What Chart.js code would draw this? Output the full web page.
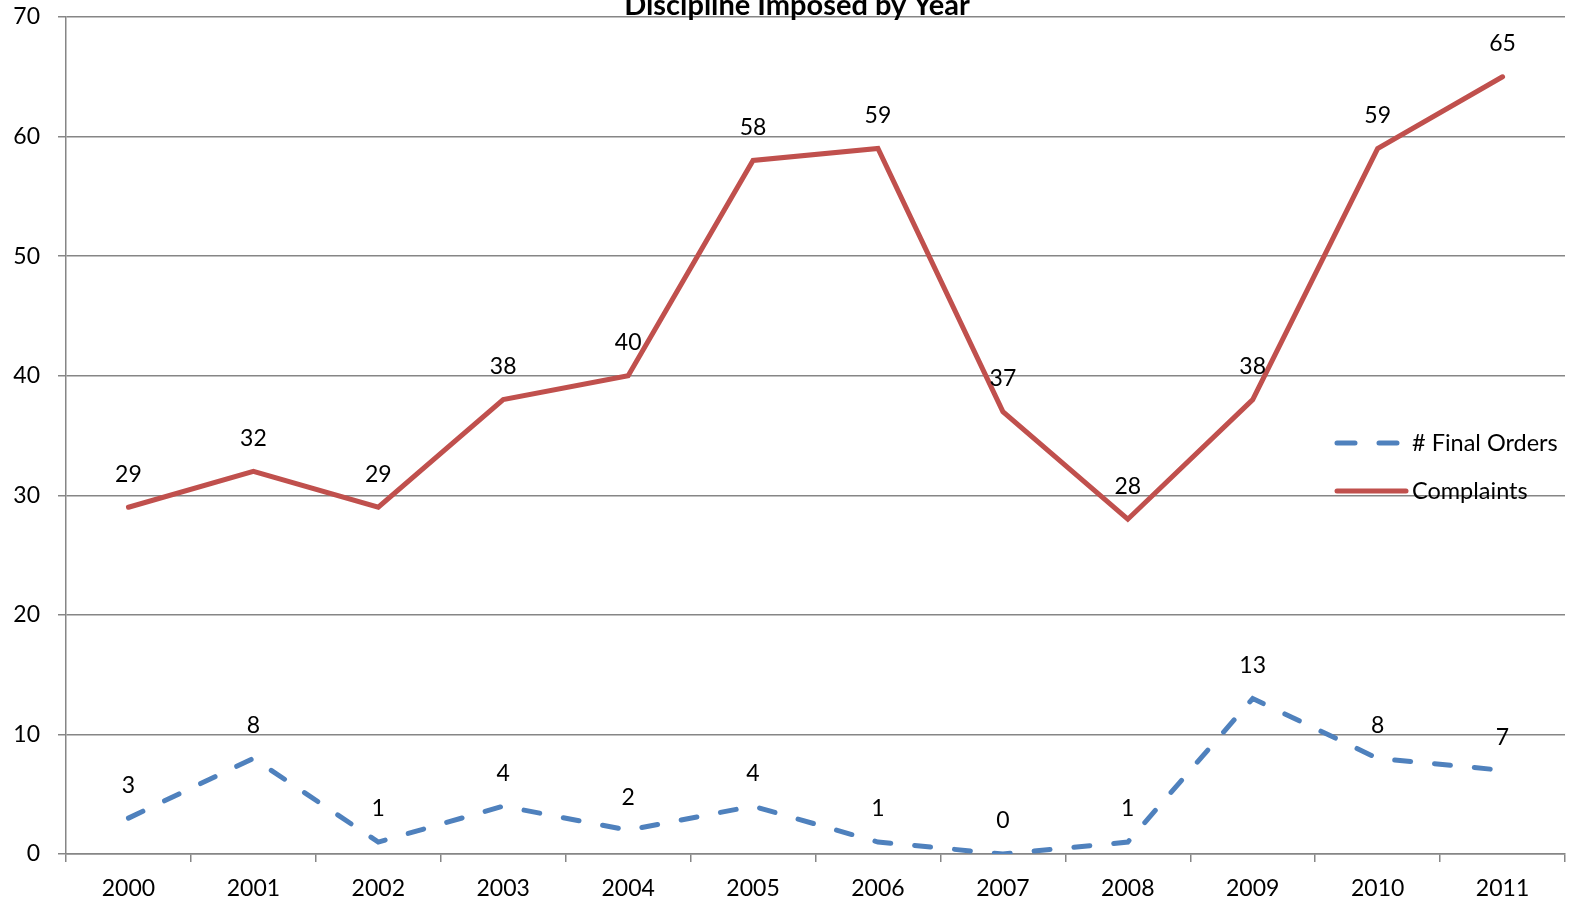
<!DOCTYPE html>
<html>
<head>
<meta charset="utf-8">
<script src="https://cdn.jsdelivr.net/npm/chart.js@4"></script>
<style>
  html, body { margin: 0; padding: 0; background: #fff; }
  #wrap { width: 1577px; height: 905px; }
</style>
</head>
<body>
<div id="wrap"><canvas id="lineChart" width="1577" height="905"></canvas></div>
<script>
  const years = ['2000', '2001', '2002', '2003', '2004', '2005', '2006', '2007', '2008', '2009', '2010', '2011'];
  const finalOrders = [3, 8, 1, 4, 2, 4, 1, 0, 1, 13, 8, 7];
  const complaints = [29, 32, 29, 38, 40, 58, 59, 37, 28, 38, 59, 65];
  const yTicks = [0, 10, 20, 30, 40, 50, 60, 70];

  const FONT = 'Lato, "Open Sans", sans-serif';
  const gridColor = '#868686';

  // title sits partly above the top edge, so draw it by hand
  const titlePlugin = {
    id: 'topTitle',
    afterDraw(chart) {
      const ctx = chart.ctx;
      ctx.save();
      ctx.font = 'bold 29px ' + FONT;
      ctx.fillStyle = '#000';
      ctx.textAlign = 'center';
      ctx.textBaseline = 'alphabetic';
      ctx.fillText('Discipline Imposed by Year', 797, 15);
      ctx.restore();
    }
  };

  // value labels above each point
  const labelPlugin = {
    id: 'pointLabels',
    afterDatasetsDraw(chart) {
      const ctx = chart.ctx;
      ctx.save();
      ctx.font = '23px ' + FONT;
      ctx.fillStyle = '#000';
      ctx.textAlign = 'center';
      ctx.textBaseline = 'middle';
      chart.data.datasets.forEach((ds, i) => {
        chart.getDatasetMeta(i).data.forEach((pt, j) => {
          ctx.fillText(String(ds.data[j]), pt.x, pt.y - 33);
        });
      });
      ctx.restore();
    }
  };

  // legend floats inside the plot on the right
  const legendPlugin = {
    id: 'insideLegend',
    afterDraw(chart) {
      const ctx = chart.ctx;
      const rows = [443, 491];
      ctx.save();
      ctx.font = '23.5px ' + FONT;
      ctx.textBaseline = 'middle';
      chart.data.datasets.forEach((ds, i) => {
        const y = rows[i];
        ctx.strokeStyle = ds.borderColor;
        ctx.lineWidth = ds.borderWidth;
        ctx.lineCap = 'round';
        ctx.setLineDash(ds.borderDash ? [18, 24] : []);
        ctx.beginPath();
        ctx.moveTo(1337, y);
        ctx.lineTo(ds.borderDash ? 1397 : 1406, y);
        ctx.stroke();
        ctx.setLineDash([]);
        ctx.fillStyle = '#000';
        ctx.fillText(ds.label, 1412, y);
      });
      ctx.restore();
    }
  };

  const ctx = document.getElementById('lineChart').getContext('2d');
  const lineChart = new Chart(ctx, {
    type: 'line',
    data: {
      labels: years,
      datasets: [{
        label: '# Final Orders',
        data: finalOrders,
        borderColor: '#4F81BD',
        borderWidth: 5,
        borderDash: [16, 24],
        borderCapStyle: 'round',
        pointRadius: 0,
        tension: 0,
        fill: false
      }, {
        label: 'Complaints',
        data: complaints,
        borderColor: '#C0504D',
        borderWidth: 5,
        borderCapStyle: 'round',
        pointRadius: 0,
        tension: 0,
        fill: false
      }]
    },
    options: {
      responsive: false,
      animation: false,
      layout: { padding: { top: 17, right: 12, left: 0, bottom: 0 } },
      plugins: {
        legend: { display: false },
        title: { display: false },
        tooltip: { enabled: false }
      },
      scales: {
        x: {
          offset: true,
          grid: {
            offset: true,
            drawOnChartArea: false,
            drawTicks: true,
            tickLength: 8,
            color: gridColor,
            lineWidth: 1.5
          },
          border: { color: gridColor, width: 1.5 },
          ticks: {
            color: '#000',
            font: { family: FONT, size: 23 },
            padding: 13,
            maxRotation: 0,
            autoSkip: false
          },
          afterFit(scale) {
            scale.height = 51;
            scale.paddingLeft = 0;
            scale.paddingRight = 0;
          }
        },
        y: {
          min: 0,
          max: 70,
          afterBuildTicks(scale) { scale.ticks = yTicks.map(v => ({ value: v })); },
          grid: {
            color: gridColor,
            lineWidth: 1.5,
            tickLength: 8
          },
          border: { color: gridColor, width: 1.5 },
          ticks: {
            color: '#000',
            font: { family: FONT, size: 23 },
            padding: 18
          },
          afterFit(scale) {
            scale.width = 66;
            scale.paddingTop = 0;
            scale.paddingBottom = 0;
          }
        }
      }
    },
    plugins: [titlePlugin, labelPlugin, legendPlugin]
  });
</script>
</body>
</html>
